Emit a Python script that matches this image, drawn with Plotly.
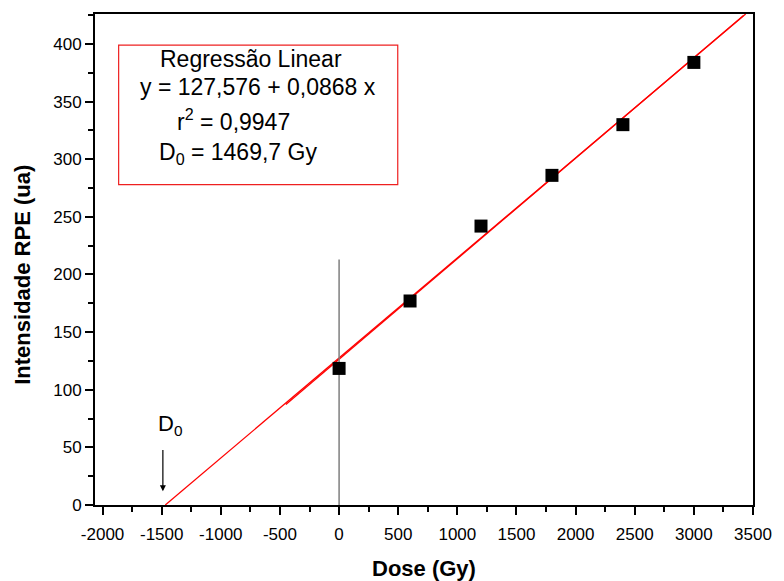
import plotly.graph_objects as go

# Data
dose = [0, 600, 1200, 1800, 2400, 3000]
intensity = [118.5, 177, 242, 286, 330, 384]

intercept = 127.576
slope = 0.0868
d0 = 1469.7

# secondary (slightly different) fit line drawn in the original
intercept2 = 126.5
slope2 = 0.0872
line2_x = [-450, 3420]

x_ticks = [-2000, -1500, -1000, -500, 0, 500, 1000, 1500, 2000, 2500, 3000, 3500]
x_ticktext = ["-2000", "-1500", "-1000", "-500", "0", "500", "1000", "1500", "2000", "2500", "3000", "3500"]
y_ticks = [0, 50, 100, 150, 200, 250, 300, 350, 400]

x_range = [-2064, 3500]
y_range = [0, 426]

FONT = "Liberation Sans, Arial, sans-serif"
W, H = 784, 581
ML, MR, MT, MB = 95, 24, 14, 76

fig = go.Figure()

# main regression line from y=0 to the top of the plot
x_end = (y_range[1] - intercept) / slope
fig.add_trace(go.Scatter(
    x=[-d0, x_end], y=[intercept - slope * d0, intercept + slope * x_end],
    mode="lines", line=dict(color="red", width=1.3), showlegend=False, hoverinfo="skip"))

fig.add_trace(go.Scatter(
    x=line2_x, y=[intercept2 + slope2 * v for v in line2_x],
    mode="lines", line=dict(color="red", width=1.3), showlegend=False, hoverinfo="skip"))

# vertical gray line at x = 0
fig.add_trace(go.Scatter(
    x=[0, 0], y=[0, 213], mode="lines",
    line=dict(color="#7f7f7f", width=1.5), showlegend=False, hoverinfo="skip"))

# data points
fig.add_trace(go.Scatter(
    x=dose, y=intensity, mode="markers",
    marker=dict(symbol="square", size=13, color="black"),
    showlegend=False))

# text box
fig.add_shape(type="rect", xref="x", yref="y", x0=-1864, x1=496, y0=278, y1=399,
              line=dict(color="#ee2020", width=1.2))

box_lines = [
    ("Regressão Linear", -749, 387),
    ("y = 127,576 + 0,0868 x", -683, 363),
    ("r<sup>2</sup> = 0,9947", -893, 334),
    ("D<sub>0</sub> = 1469,7 Gy", -851, 305),
]
for txt, xx, yy in box_lines:
    fig.add_annotation(x=xx, y=yy, xref="x", yref="y", text=txt, showarrow=False,
                       xanchor="center", yanchor="middle",
                       font=dict(family=FONT, size=23, color="black"))

# D0 arrow and label
fig.add_annotation(x=-1490, y=12, ax=-1490, ay=49, xref="x", yref="y", axref="x", ayref="y",
                   text="", showarrow=True, arrowhead=2, arrowsize=1, arrowwidth=1.2,
                   arrowcolor="black")
fig.add_annotation(x=-1430, y=69, xref="x", yref="y", text="D<sub>0</sub>", showarrow=False,
                   font=dict(family=FONT, size=22, color="black"))

# axis titles placed as paper annotations
def px_x(p):
    return (p - ML) / (W - ML - MR)

def px_y(p):
    return 1 - (p - MT) / (H - MT - MB)

fig.add_annotation(x=px_x(428), y=px_y(568), xref="paper", yref="paper",
                   text="<b>Dose (Gy)</b>", showarrow=False, xanchor="center", yanchor="middle",
                   font=dict(family=FONT, size=22, color="black"))
fig.add_annotation(x=px_x(21), y=px_y(275), xref="paper", yref="paper",
                   text="<b>Intensidade RPE (ua)</b>", showarrow=False, textangle=-90,
                   xanchor="center", yanchor="middle",
                   font=dict(family=FONT, size=22, color="black"))

fig.update_layout(
    width=W, height=H,
    margin=dict(l=ML, r=MR, t=MT, b=MB),
    plot_bgcolor="white", paper_bgcolor="white",
    font=dict(family=FONT, size=17, color="black"),
    xaxis=dict(
        range=x_range, tickvals=x_ticks, ticktext=x_ticktext,
        showline=True, mirror=True, linecolor="black", linewidth=2,
        ticks="outside", ticklen=8, tickwidth=2, tickcolor="black",
        minor=dict(ticks="outside", ticklen=5, tickwidth=2, tickcolor="black", dtick=250, tick0=0, showgrid=False),
        showgrid=False, zeroline=False, ticklabelstandoff=5,
        tickfont=dict(family=FONT, size=17),
    ),
    yaxis=dict(
        range=y_range, tickvals=y_ticks,
        showline=True, mirror=True, linecolor="black", linewidth=2,
        ticks="outside", ticklen=8, tickwidth=2, tickcolor="black",
        minor=dict(ticks="outside", ticklen=5, tickwidth=2, tickcolor="black", dtick=25, tick0=0, showgrid=False),
        showgrid=False, zeroline=False,
        tickfont=dict(family=FONT, size=17),
    ),
)

fig.write_html("out.html")
